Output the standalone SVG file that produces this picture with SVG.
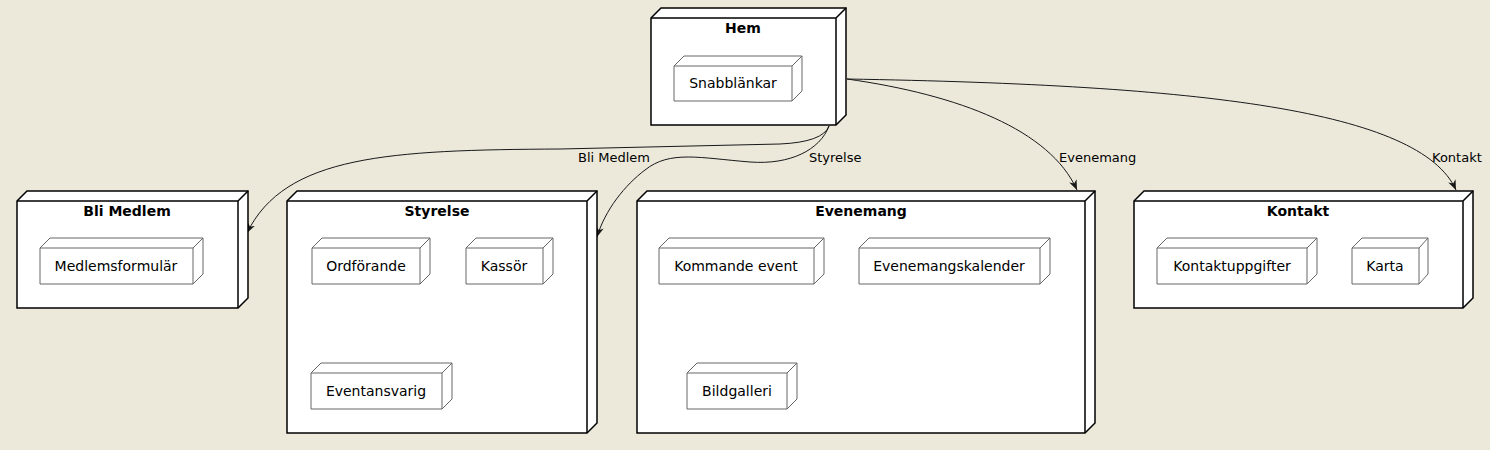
<svg xmlns="http://www.w3.org/2000/svg" width="1490" height="450" viewBox="0 0 1490 450">
<defs>
<style>
.bg{fill:#ECE9DB}
.outer{fill:#FFFFFF;stroke:#000000;stroke-width:1.5}
.outerl{fill:none;stroke:#000000;stroke-width:1.5}
.inner{fill:#FFFFFF;stroke:#666666;stroke-width:1}
.innerl{fill:none;stroke:#666666;stroke-width:1}
.title{font-family:"DejaVu Sans",sans-serif;font-size:14px;font-weight:bold;fill:#000000;text-anchor:middle}
.lbl{font-family:"DejaVu Sans",sans-serif;font-size:14px;fill:#000000;text-anchor:middle}
.elbl{font-family:"DejaVu Sans",sans-serif;font-size:13px;fill:#000000}
.edge{fill:none;stroke:#181818;stroke-width:1}
</style>
<marker id="arr" markerUnits="userSpaceOnUse" markerWidth="12" markerHeight="10" refX="10" refY="4" orient="auto">
<path d="M0,0 L10,4 L0,8 L3,4 Z" fill="#181818"/>
</marker>
</defs>
<rect class="bg" x="0" y="0" width="1490" height="450"/>

<g id="connectors">
<path class="edge" marker-end="url(#arr)" d="M829,126 Q823,142 780,144 L560,149 C390,150 285,155 247,233"/>
<path class="edge" marker-end="url(#arr)" d="M829,126 C820,150 790,165 750,162 C700,158 670,150 645,170 C625,185 605,210 597,237"/>
<path class="edge" marker-end="url(#arr)" d="M847,79 C960,95 1050,130 1077,190"/>
<path class="edge" marker-end="url(#arr)" d="M847,79 C1200,85 1420,110 1456,190"/>
<text class="elbl" x="578" y="162">Bli Medlem</text>
<text class="elbl" x="809" y="162">Styrelse</text>
<text class="elbl" x="1059" y="162">Evenemang</text>
<text class="elbl" x="1432" y="162">Kontakt</text>
</g>

<g id="hem">
<path class="outer" d="M651,18 L661,8 L846,8 L846,115 L836,125 L651,125 Z"/>
<path class="outerl" d="M651,18 L836,18 L846,8 M836,18 L836,125"/>
<text class="title" x="743" y="33">Hem</text>
<g id="snabblankar">
<path class="inner" d="M674,66 L684,56 L802,56 L802,91 L792,101 L674,101 Z"/>
<path class="innerl" d="M674,66 L792,66 L802,56 M792,66 L792,101"/>
<text class="lbl" x="733" y="88">Snabblänkar</text>
</g>
</g>

<g id="blimedlem">
<path class="outer" d="M17,201 L27,191 L248,191 L248,298 L238,308 L17,308 Z"/>
<path class="outerl" d="M17,201 L238,201 L248,191 M238,201 L238,308"/>
<text class="title" x="127" y="216">Bli Medlem</text>
<g id="medlemsformular">
<path class="inner" d="M40,248 L50,238 L203,238 L203,274 L193,284 L40,284 Z"/>
<path class="innerl" d="M40,248 L193,248 L203,238 M193,248 L193,284"/>
<text class="lbl" x="116" y="271">Medlemsformulär</text>
</g>
</g>

<g id="styrelse">
<path class="outer" d="M287,201 L297,191 L597,191 L597,423 L587,433 L287,433 Z"/>
<path class="outerl" d="M287,201 L587,201 L597,191 M587,201 L587,433"/>
<text class="title" x="437" y="216">Styrelse</text>
<g id="ordforande">
<path class="inner" d="M312,248 L322,238 L430,238 L430,274 L420,284 L312,284 Z"/>
<path class="innerl" d="M312,248 L420,248 L430,238 M420,248 L420,284"/>
<text class="lbl" x="366" y="271">Ordförande</text>
</g>
<g id="kassor">
<path class="inner" d="M466,248 L476,238 L553,238 L553,274 L543,284 L466,284 Z"/>
<path class="innerl" d="M466,248 L543,248 L553,238 M543,248 L543,284"/>
<text class="lbl" x="504" y="271">Kassör</text>
</g>
<g id="eventansvarig">
<path class="inner" d="M311,373 L321,363 L452,363 L452,399 L442,409 L311,409 Z"/>
<path class="innerl" d="M311,373 L442,373 L452,363 M442,373 L442,409"/>
<text class="lbl" x="376" y="396">Eventansvarig</text>
</g>
</g>

<g id="evenemang">
<path class="outer" d="M637,201 L647,191 L1095,191 L1095,423 L1085,433 L637,433 Z"/>
<path class="outerl" d="M637,201 L1085,201 L1095,191 M1085,201 L1085,433"/>
<text class="title" x="861" y="216">Evenemang</text>
<g id="kommandeevent">
<path class="inner" d="M659,248 L669,238 L824,238 L824,274 L814,284 L659,284 Z"/>
<path class="innerl" d="M659,248 L814,248 L824,238 M814,248 L814,284"/>
<text class="lbl" x="736" y="271">Kommande event</text>
</g>
<g id="evenemangskalender">
<path class="inner" d="M859,248 L869,238 L1050,238 L1050,274 L1040,284 L859,284 Z"/>
<path class="innerl" d="M859,248 L1040,248 L1050,238 M1040,248 L1040,284"/>
<text class="lbl" x="949" y="271">Evenemangskalender</text>
</g>
<g id="bildgalleri">
<path class="inner" d="M687,373 L697,363 L797,363 L797,399 L787,409 L687,409 Z"/>
<path class="innerl" d="M687,373 L787,373 L797,363 M787,373 L787,409"/>
<text class="lbl" x="737" y="396">Bildgalleri</text>
</g>
</g>

<g id="kontakt">
<path class="outer" d="M1134,201 L1144,191 L1473,191 L1473,298 L1463,308 L1134,308 Z"/>
<path class="outerl" d="M1134,201 L1463,201 L1473,191 M1463,201 L1463,308"/>
<text class="title" x="1298" y="216">Kontakt</text>
<g id="kontaktuppgifter">
<path class="inner" d="M1157,248 L1167,238 L1317,238 L1317,274 L1307,284 L1157,284 Z"/>
<path class="innerl" d="M1157,248 L1307,248 L1317,238 M1307,248 L1307,284"/>
<text class="lbl" x="1232" y="271">Kontaktuppgifter</text>
</g>
<g id="karta">
<path class="inner" d="M1352,248 L1362,238 L1428,238 L1428,274 L1419,284 L1352,284 Z"/>
<path class="innerl" d="M1352,248 L1419,248 L1428,238 M1419,248 L1419,284"/>
<text class="lbl" x="1385" y="271">Karta</text>
</g>
</g>
</svg>
